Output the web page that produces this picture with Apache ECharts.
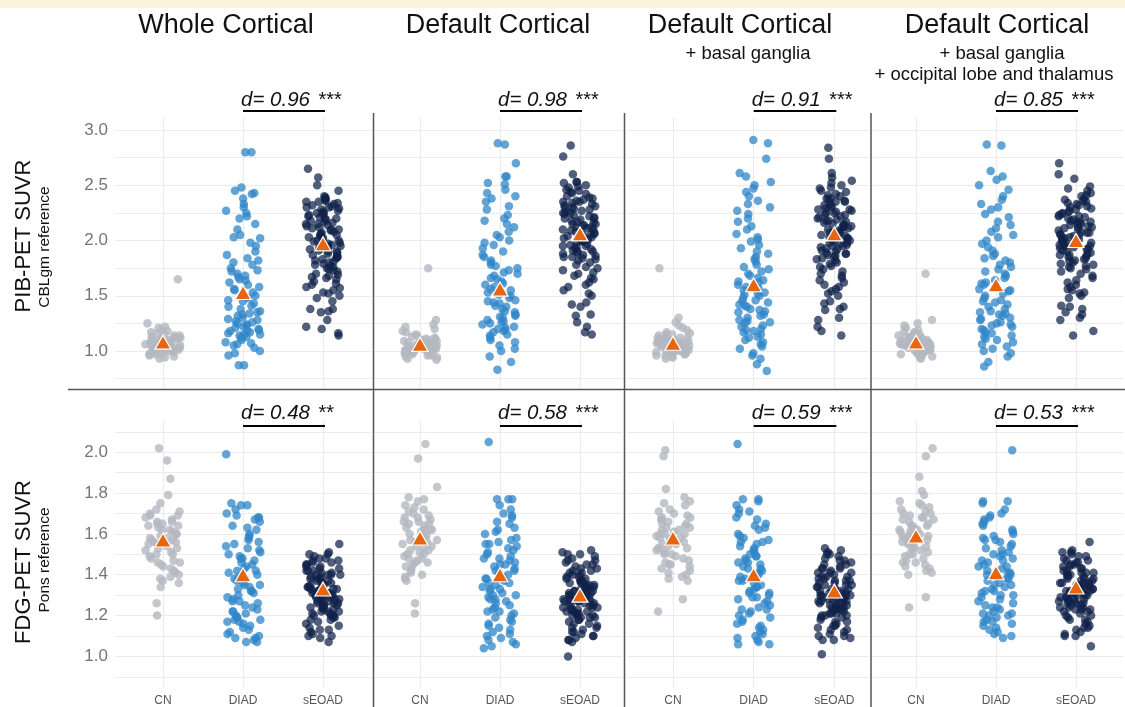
<!DOCTYPE html>
<html><head><meta charset="utf-8">
<script src="https://cdn.jsdelivr.net/npm/echarts@6/dist/echarts.min.js"></script>
<style>html,body{margin:0;padding:0;background:#fff}#c{width:1125px;height:707px}</style>
</head><body><div id="c"></div>
<script>
// ---------- labels ----------
const categories = ['CN', 'DIAD', 'sEOAD'];
const panelTitles = ['Whole Cortical', 'Default Cortical', 'Default Cortical', 'Default Cortical'];
const panelSubtitles = [[], [], ['+ basal ganglia'], ['+ basal ganglia', '+ occipital lobe and thalamus']];
const rowTitles = ['PIB-PET SUVR', 'FDG-PET SUVR'];
const rowSubtitles = ['CBLgm reference', 'Pons reference'];
const pibTickLabels = [1.0, 1.5, 2.0, 2.5, 3.0];
const pibGridValues = [0.75, 1.0, 1.25, 1.5, 1.75, 2.0, 2.25, 2.5, 2.75, 3.0];
const fdgTickLabels = [1.0, 1.2, 1.4, 1.6, 1.8, 2.0];
const fdgGridValues = [0.9, 1.0, 1.1, 1.2, 1.3, 1.4, 1.5, 1.6, 1.7, 1.8, 1.9, 2.0, 2.1];
const dPib = ['0.96', '0.98', '0.91', '0.85'];
const sigPib = ['***', '***', '***', '***'];
const dFdg = ['0.48', '0.58', '0.59', '0.53'];
const sigFdg = ['**', '***', '***', '***'];

// ---------- group means (triangles) ----------
const pibMeans = [[1.08, 1.53, 1.97], [1.06, 1.56, 2.06], [1.07, 1.60, 2.06], [1.08, 1.60, 2.00]];
const fdgMeans = [[1.57, 1.40, 1.33], [1.58, 1.40, 1.30], [1.58, 1.40, 1.32], [1.59, 1.41, 1.34]];

// ---------- PIB, Whole Cortical ----------
const pib1CN = [1.65,1.25,1.22,1.21,1.19,1.18,1.17,1.16,1.15,1.14,1.14,1.13,1.12,1.12,1.11,1.11,1.10,1.10,1.09,1.09,1.08,1.08,1.08,1.07,1.07,1.07,1.06,1.06,1.06,1.05,1.05,1.05,1.04,1.04,1.04,1.03,1.03,1.03,1.02,1.02,1.01,1.01,1.00,1.00,0.99,0.99,0.98,0.98,0.97,0.97,0.96,0.95,0.94,0.93,1.12,1.09,1.06,1.03,1.10,1.05];
const pib1DIAD = [2.80,2.80,2.48,2.45,2.43,2.42,2.38,2.33,2.30,2.27,2.25,2.22,2.20,2.15,2.10,2.05,2.03,2.02,1.98,1.95,1.90,1.87,1.84,1.82,1.80,1.78,1.75,1.73,1.72,1.70,1.68,1.67,1.65,1.64,1.62,1.60,1.58,1.56,1.55,1.53,1.50,1.48,1.46,1.45,1.43,1.41,1.40,1.38,1.36,1.35,1.33,1.32,1.30,1.29,1.28,1.27,1.25,1.24,1.23,1.22,1.21,1.20,1.19,1.18,1.17,1.16,1.15,1.15,1.14,1.13,1.12,1.10,1.08,1.07,1.06,1.05,1.03,1.00,0.98,0.96,0.87,0.87,1.34,1.26,1.18];
const pib1SEOAD = [2.65,2.57,2.50,2.45,2.40,2.39,2.38,2.37,2.36,2.35,2.34,2.33,2.32,2.31,2.30,2.29,2.28,2.27,2.26,2.25,2.24,2.23,2.22,2.21,2.20,2.19,2.18,2.17,2.16,2.15,2.14,2.13,2.12,2.11,2.10,2.09,2.08,2.07,2.06,2.05,2.04,2.03,2.02,2.01,2.00,1.99,1.98,1.97,1.96,1.95,1.94,1.93,1.92,1.91,1.90,1.89,1.88,1.87,1.86,1.85,1.84,1.83,1.82,1.81,1.80,1.79,1.78,1.77,1.76,1.75,1.74,1.73,1.72,1.70,1.69,1.68,1.67,1.66,1.65,1.63,1.61,1.60,1.58,1.57,1.55,1.53,1.52,1.50,1.48,1.45,1.38,1.38,1.36,1.35,1.28,1.22,1.20,1.16,1.14,2.35,2.25,2.15,2.05,1.95,1.85,2.20,2.10,2.00,1.90,2.30];

// ---------- PIB, Default Cortical ----------
const pib2CN = [1.75,1.28,1.24,1.22,1.20,1.18,1.17,1.15,1.14,1.13,1.12,1.11,1.10,1.10,1.09,1.09,1.08,1.08,1.07,1.07,1.06,1.06,1.06,1.05,1.05,1.05,1.04,1.04,1.04,1.03,1.03,1.03,1.02,1.02,1.02,1.01,1.01,1.01,1.00,1.00,1.00,0.99,0.99,0.98,0.98,0.97,0.97,0.96,0.96,0.95,0.94,0.93,0.92,1.08,1.05,1.03,1.11,1.02,0.99,1.06];
const pib2DIAD = [2.88,2.87,2.70,2.58,2.58,2.52,2.51,2.46,2.43,2.40,2.38,2.35,2.31,2.28,2.23,2.20,2.18,2.15,2.12,2.08,2.05,2.03,2.00,1.98,1.96,1.93,1.90,1.87,1.85,1.82,1.80,1.78,1.77,1.75,1.73,1.71,1.70,1.68,1.66,1.65,1.63,1.61,1.60,1.58,1.56,1.55,1.53,1.51,1.50,1.48,1.46,1.45,1.43,1.41,1.40,1.38,1.36,1.35,1.33,1.31,1.30,1.28,1.27,1.25,1.24,1.22,1.21,1.20,1.18,1.17,1.15,1.14,1.12,1.10,1.08,1.05,1.02,1.00,0.95,0.90,0.83,1.32,1.26,1.19,1.44];
const pib2SEOAD = [2.86,2.76,2.60,2.53,2.53,2.52,2.50,2.49,2.48,2.46,2.45,2.44,2.43,2.42,2.40,2.39,2.38,2.37,2.36,2.35,2.34,2.33,2.32,2.31,2.30,2.29,2.28,2.27,2.26,2.25,2.24,2.23,2.22,2.21,2.20,2.19,2.18,2.17,2.16,2.15,2.14,2.13,2.12,2.11,2.10,2.09,2.08,2.07,2.06,2.05,2.04,2.03,2.02,2.01,2.00,1.99,1.98,1.97,1.96,1.95,1.94,1.93,1.92,1.91,1.90,1.89,1.88,1.87,1.86,1.85,1.84,1.83,1.82,1.80,1.78,1.76,1.75,1.73,1.71,1.70,1.68,1.66,1.65,1.62,1.60,1.58,1.55,1.52,1.50,1.44,1.42,1.40,1.33,1.32,1.26,1.22,1.17,1.15,2.30,2.20,2.10,2.00,1.90,2.25,2.15,2.05,1.95,1.85,2.35,2.12];

// ---------- PIB, Default Cortical + basal ganglia ----------
const pib3CN = [1.75,1.30,1.26,1.23,1.21,1.19,1.17,1.16,1.15,1.14,1.13,1.12,1.12,1.11,1.10,1.10,1.09,1.09,1.08,1.08,1.07,1.07,1.07,1.06,1.06,1.06,1.05,1.05,1.05,1.04,1.04,1.04,1.03,1.03,1.03,1.02,1.02,1.01,1.01,1.00,1.00,0.99,0.99,0.98,0.98,0.97,0.97,0.96,0.96,0.95,0.94,0.93,1.10,1.08,1.05,1.12,1.03,1.00,1.07,1.15];
const pib3DIAD = [2.91,2.88,2.74,2.61,2.58,2.53,2.50,2.47,2.44,2.40,2.36,2.33,2.30,2.27,2.24,2.20,2.17,2.13,2.10,2.06,2.03,2.01,1.99,1.96,1.93,1.90,1.88,1.85,1.83,1.81,1.78,1.76,1.74,1.72,1.70,1.68,1.66,1.64,1.62,1.60,1.58,1.57,1.55,1.53,1.51,1.50,1.48,1.46,1.44,1.42,1.40,1.38,1.37,1.35,1.33,1.32,1.30,1.28,1.26,1.25,1.23,1.22,1.20,1.18,1.17,1.15,1.13,1.12,1.10,1.08,1.06,1.04,1.02,0.98,0.96,0.93,0.88,0.82,1.45,1.36,1.27,1.52,1.19,1.63,1.41];
const pib3SEOAD = [2.84,2.74,2.61,2.57,2.54,2.52,2.50,2.48,2.47,2.45,2.44,2.42,2.41,2.40,2.38,2.37,2.36,2.35,2.33,2.32,2.31,2.30,2.29,2.28,2.27,2.26,2.25,2.24,2.23,2.22,2.21,2.20,2.19,2.18,2.17,2.16,2.15,2.14,2.13,2.12,2.11,2.10,2.09,2.08,2.07,2.06,2.05,2.04,2.03,2.02,2.01,2.00,1.99,1.98,1.97,1.96,1.95,1.94,1.93,1.92,1.91,1.90,1.89,1.88,1.87,1.86,1.85,1.84,1.83,1.82,1.80,1.79,1.77,1.76,1.74,1.72,1.70,1.68,1.66,1.64,1.62,1.60,1.58,1.56,1.54,1.52,1.50,1.45,1.43,1.40,1.38,1.37,1.30,1.28,1.22,1.18,1.14,2.35,2.25,2.15,2.05,1.95,2.28,2.18,2.08,1.98,1.88,2.38,2.12,2.02];

// ---------- PIB, + occipital lobe and thalamus ----------
const pib4CN = [1.70,1.28,1.25,1.23,1.21,1.19,1.18,1.17,1.16,1.15,1.14,1.13,1.13,1.12,1.11,1.11,1.10,1.10,1.09,1.09,1.08,1.08,1.08,1.07,1.07,1.07,1.06,1.06,1.06,1.05,1.05,1.05,1.04,1.04,1.04,1.03,1.03,1.02,1.02,1.01,1.01,1.00,1.00,0.99,0.99,0.98,0.98,0.97,0.97,0.96,0.95,0.94,0.93,1.12,1.09,1.06,1.14,1.04,1.01,1.10];
const pib4DIAD = [2.87,2.86,2.63,2.58,2.55,2.50,2.46,2.40,2.37,2.33,2.30,2.28,2.24,2.21,2.17,2.14,2.11,2.08,2.05,2.03,2.00,1.97,1.94,1.91,1.88,1.86,1.84,1.82,1.80,1.78,1.76,1.74,1.72,1.70,1.68,1.66,1.64,1.62,1.60,1.58,1.56,1.54,1.52,1.50,1.48,1.46,1.44,1.42,1.40,1.38,1.36,1.34,1.32,1.30,1.28,1.26,1.25,1.23,1.22,1.20,1.19,1.17,1.16,1.14,1.13,1.11,1.10,1.08,1.06,1.04,1.02,1.00,0.98,0.95,0.90,0.86,1.35,1.29,1.45,1.55,1.24,1.61,1.33];
const pib4SEOAD = [2.70,2.60,2.56,2.49,2.47,2.45,2.43,2.41,2.40,2.38,2.37,2.35,2.34,2.33,2.31,2.30,2.29,2.28,2.26,2.25,2.24,2.23,2.22,2.21,2.20,2.19,2.18,2.17,2.16,2.15,2.14,2.13,2.12,2.11,2.10,2.09,2.08,2.07,2.06,2.05,2.04,2.03,2.02,2.01,2.00,1.99,1.98,1.97,1.96,1.95,1.94,1.93,1.92,1.91,1.90,1.89,1.88,1.87,1.86,1.85,1.84,1.83,1.82,1.81,1.80,1.79,1.78,1.77,1.76,1.75,1.74,1.72,1.70,1.68,1.66,1.64,1.62,1.60,1.58,1.56,1.55,1.53,1.52,1.50,1.48,1.41,1.40,1.38,1.35,1.33,1.30,1.28,1.18,1.14,2.32,2.22,2.12,2.02,1.92,2.27,2.17,2.07,1.97,1.87,2.36,2.05,1.95,2.15];

// ---------- FDG, Whole Cortical ----------
const fdg1CN = [2.02,1.96,1.87,1.79,1.75,1.72,1.71,1.70,1.69,1.69,1.68,1.67,1.66,1.66,1.65,1.64,1.64,1.63,1.62,1.62,1.61,1.60,1.60,1.59,1.58,1.58,1.57,1.57,1.56,1.56,1.55,1.55,1.54,1.53,1.53,1.52,1.51,1.50,1.50,1.49,1.48,1.47,1.46,1.46,1.45,1.44,1.43,1.42,1.41,1.40,1.39,1.38,1.37,1.36,1.34,1.26,1.20,1.60,1.55,1.65];
const fdg1DIAD = [1.99,1.75,1.74,1.74,1.72,1.70,1.69,1.68,1.68,1.67,1.66,1.64,1.63,1.62,1.60,1.59,1.58,1.57,1.56,1.55,1.54,1.53,1.52,1.51,1.50,1.49,1.48,1.47,1.46,1.45,1.44,1.43,1.42,1.41,1.40,1.39,1.38,1.37,1.36,1.35,1.34,1.33,1.32,1.31,1.30,1.29,1.28,1.27,1.26,1.25,1.24,1.23,1.22,1.21,1.20,1.19,1.19,1.18,1.18,1.17,1.17,1.16,1.15,1.14,1.13,1.12,1.11,1.10,1.09,1.09,1.08,1.07,1.07,1.38,1.32,1.27,1.48,1.22,1.35,1.42];
const fdg1SEOAD = [1.55,1.51,1.50,1.50,1.49,1.48,1.48,1.47,1.47,1.46,1.46,1.45,1.45,1.44,1.44,1.43,1.43,1.42,1.42,1.41,1.41,1.40,1.40,1.40,1.39,1.39,1.38,1.38,1.37,1.37,1.36,1.36,1.35,1.35,1.34,1.34,1.33,1.33,1.33,1.32,1.32,1.31,1.31,1.30,1.30,1.30,1.29,1.29,1.28,1.28,1.27,1.27,1.26,1.26,1.25,1.25,1.24,1.24,1.23,1.23,1.22,1.22,1.21,1.21,1.20,1.20,1.19,1.19,1.18,1.18,1.17,1.16,1.15,1.14,1.13,1.13,1.12,1.11,1.10,1.10,1.09,1.07,1.35,1.32,1.28,1.25,1.38,1.22,1.30,1.42,1.33,1.27,1.36,1.24,1.31,1.40,1.20,1.29,1.34,1.26];

// ---------- FDG, Default Cortical ----------
const fdg2CN = [2.04,1.97,1.83,1.78,1.77,1.76,1.74,1.73,1.72,1.71,1.70,1.69,1.68,1.68,1.67,1.66,1.65,1.65,1.64,1.63,1.62,1.62,1.61,1.60,1.60,1.59,1.58,1.58,1.57,1.56,1.56,1.55,1.54,1.54,1.53,1.52,1.51,1.50,1.50,1.49,1.48,1.47,1.46,1.46,1.45,1.44,1.43,1.42,1.41,1.40,1.39,1.38,1.37,1.26,1.21,1.62,1.57,1.66,1.52,1.48];
const fdg2DIAD = [2.05,1.77,1.77,1.77,1.74,1.72,1.70,1.69,1.68,1.66,1.65,1.63,1.62,1.61,1.60,1.58,1.57,1.56,1.55,1.54,1.53,1.52,1.51,1.50,1.49,1.48,1.47,1.46,1.45,1.44,1.43,1.42,1.41,1.40,1.39,1.38,1.37,1.36,1.35,1.34,1.33,1.32,1.31,1.30,1.29,1.28,1.27,1.26,1.25,1.24,1.23,1.22,1.21,1.20,1.19,1.18,1.17,1.16,1.15,1.14,1.13,1.12,1.11,1.10,1.09,1.08,1.07,1.06,1.05,1.04,1.42,1.36,1.30,1.48,1.22,1.55,1.38,1.28,1.45,1.33];
const fdg2SEOAD = [1.52,1.51,1.50,1.50,1.49,1.48,1.47,1.47,1.46,1.45,1.45,1.44,1.43,1.43,1.42,1.41,1.41,1.40,1.39,1.39,1.38,1.37,1.37,1.36,1.35,1.35,1.34,1.33,1.33,1.32,1.31,1.31,1.30,1.30,1.29,1.29,1.28,1.28,1.27,1.27,1.26,1.26,1.25,1.25,1.24,1.24,1.23,1.23,1.22,1.22,1.21,1.21,1.20,1.20,1.19,1.19,1.18,1.18,1.17,1.16,1.16,1.15,1.14,1.14,1.13,1.12,1.12,1.11,1.10,1.10,1.09,1.08,1.08,1.07,1.00,1.32,1.28,1.35,1.25,1.30,1.38,1.22,1.33,1.27,1.40,1.29,1.24,1.36,1.31,1.26,1.34,1.20,1.30,1.23,1.28,1.37,1.32,1.19,1.42,1.27];

// ---------- FDG, Default Cortical + basal ganglia ----------
const fdg3CN = [2.01,1.98,1.82,1.78,1.76,1.75,1.74,1.72,1.71,1.70,1.69,1.68,1.68,1.67,1.66,1.65,1.65,1.64,1.63,1.62,1.62,1.61,1.60,1.60,1.59,1.58,1.58,1.57,1.56,1.56,1.55,1.54,1.53,1.53,1.52,1.51,1.50,1.50,1.49,1.48,1.47,1.46,1.45,1.45,1.44,1.43,1.42,1.41,1.40,1.39,1.38,1.37,1.28,1.22,1.63,1.58,1.67,1.53,1.60,1.55];
const fdg3DIAD = [2.04,1.77,1.77,1.76,1.74,1.72,1.71,1.70,1.68,1.67,1.65,1.64,1.63,1.62,1.60,1.59,1.58,1.57,1.56,1.55,1.54,1.53,1.52,1.51,1.50,1.49,1.48,1.47,1.46,1.45,1.44,1.43,1.42,1.41,1.40,1.39,1.38,1.37,1.36,1.35,1.34,1.33,1.32,1.31,1.30,1.29,1.28,1.27,1.26,1.25,1.24,1.23,1.22,1.21,1.20,1.19,1.18,1.17,1.16,1.15,1.14,1.13,1.12,1.11,1.10,1.09,1.08,1.07,1.06,1.06,1.43,1.37,1.31,1.49,1.23,1.56,1.39,1.29,1.46,1.34];
const fdg3SEOAD = [1.53,1.52,1.51,1.50,1.50,1.49,1.48,1.47,1.47,1.46,1.45,1.45,1.44,1.43,1.43,1.42,1.41,1.41,1.40,1.39,1.39,1.38,1.37,1.37,1.36,1.35,1.35,1.34,1.33,1.33,1.32,1.31,1.31,1.30,1.30,1.29,1.29,1.28,1.28,1.27,1.27,1.26,1.26,1.25,1.25,1.24,1.24,1.23,1.23,1.22,1.22,1.21,1.21,1.20,1.20,1.19,1.19,1.18,1.17,1.17,1.16,1.15,1.15,1.14,1.13,1.13,1.12,1.11,1.10,1.10,1.09,1.08,1.08,1.01,1.33,1.29,1.36,1.26,1.31,1.39,1.23,1.34,1.28,1.41,1.30,1.25,1.37,1.32,1.27,1.35,1.21,1.31,1.24,1.29,1.38,1.33,1.20,1.43,1.28,1.30];

// ---------- FDG, + occipital lobe and thalamus ----------
const fdg4CN = [2.02,1.98,1.88,1.81,1.79,1.76,1.75,1.74,1.73,1.72,1.71,1.70,1.70,1.69,1.68,1.67,1.67,1.66,1.65,1.64,1.64,1.63,1.62,1.62,1.61,1.60,1.60,1.59,1.58,1.58,1.57,1.56,1.56,1.55,1.54,1.53,1.53,1.52,1.51,1.50,1.50,1.49,1.48,1.47,1.46,1.46,1.45,1.44,1.43,1.42,1.41,1.40,1.29,1.24,1.64,1.59,1.68,1.54,1.61,1.56];
const fdg4DIAD = [2.01,1.76,1.76,1.75,1.72,1.70,1.69,1.68,1.67,1.66,1.65,1.64,1.62,1.61,1.60,1.59,1.58,1.57,1.56,1.55,1.54,1.53,1.52,1.51,1.50,1.49,1.48,1.47,1.46,1.45,1.44,1.43,1.42,1.41,1.40,1.39,1.38,1.37,1.36,1.35,1.34,1.33,1.32,1.31,1.30,1.29,1.28,1.27,1.26,1.25,1.24,1.23,1.22,1.21,1.20,1.20,1.19,1.18,1.17,1.17,1.16,1.15,1.14,1.13,1.12,1.11,1.10,1.09,1.44,1.38,1.32,1.50,1.24,1.57,1.40,1.30,1.47,1.35,1.21,1.41];
const fdg4SEOAD = [1.56,1.52,1.51,1.51,1.50,1.49,1.49,1.48,1.47,1.47,1.46,1.45,1.45,1.44,1.43,1.43,1.42,1.41,1.41,1.40,1.40,1.39,1.38,1.38,1.37,1.36,1.36,1.35,1.35,1.34,1.34,1.33,1.33,1.32,1.32,1.31,1.31,1.30,1.30,1.29,1.29,1.28,1.28,1.27,1.27,1.26,1.26,1.25,1.25,1.24,1.24,1.23,1.23,1.22,1.22,1.21,1.20,1.20,1.19,1.18,1.18,1.17,1.16,1.15,1.14,1.14,1.13,1.12,1.11,1.10,1.10,1.05,1.36,1.32,1.39,1.29,1.34,1.42,1.26,1.37,1.31,1.44,1.33,1.28,1.40,1.35,1.30,1.38,1.24,1.34,1.27,1.32,1.41,1.36,1.23,1.46,1.31,1.33];

// ---------- assemble ----------
const pibData = [[pib1CN, pib1DIAD, pib1SEOAD], [pib2CN, pib2DIAD, pib2SEOAD], [pib3CN, pib3DIAD, pib3SEOAD], [pib4CN, pib4DIAD, pib4SEOAD]];
const fdgData = [[fdg1CN, fdg1DIAD, fdg1SEOAD], [fdg2CN, fdg2DIAD, fdg2SEOAD], [fdg3CN, fdg3DIAD, fdg3SEOAD], [fdg4CN, fdg4DIAD, fdg4SEOAD]];

const FONT = '"Liberation Sans", Arial, Helvetica, sans-serif';
const groupColors = ['#b4b8c0', '#2f86c8', '#0f2149'];
const groupOpacity = [0.8, 0.75, 0.72];

// panel geometry (pixels) and visible x ranges
const colLayout = [
  { left: 115, width: 256, xmin: 0.4, xmax: 3.6 },
  { left: 375, width: 247, xmin: 0.4375, xmax: 3.525 },
  { left: 627, width: 242, xmin: 0.43, xmax: 3.43 },
  { left: 873, width: 250, xmin: 0.4625, xmax: 3.5875 }
];
const rowLayout = [
  { top: 117, height: 271, ymin: 0.665, ymax: 3.118 },
  { top: 420, height: 270, ymin: 0.85, ymax: 2.158 }
];

// deterministic horizontal jitter (hash of point index; spreads points sideways only)
const jitter = (i, g, p) => {
  const h = Math.sin((i + 1) * 12.9898 + g * 78.233 + p * 37.719) * 43758.5453;
  return ((h - Math.floor(h)) - 0.5) * 0.44;
};

const grids = [], xAxes = [], yAxes = [], series = [];
for (let r = 0; r < 2; r++) {
  for (let c = 0; c < 4; c++) {
    const p = r * 4 + c;
    const cl = colLayout[c], rl = rowLayout[r];
    grids.push({ left: cl.left, width: cl.width, top: rl.top, height: rl.height, containLabel: false });
    xAxes.push({
      gridIndex: p, type: 'value', min: cl.xmin, max: cl.xmax,
      axisLine: { show: false },
      axisTick: { show: false, customValues: [1, 2, 3] },
      splitLine: { show: true, lineStyle: { color: '#ebebeb', width: 1.2 } },
      axisLabel: {
        show: r === 1, customValues: [1, 2, 3],
        formatter: v => categories[Math.round(v) - 1],
        color: '#555', fontSize: 12, margin: 8, fontFamily: FONT
      }
    });
    yAxes.push({
      gridIndex: p, type: 'value', min: rl.ymin, max: rl.ymax,
      axisLine: { show: false },
      axisTick: { show: false, customValues: r === 0 ? pibGridValues : fdgGridValues },
      splitLine: { show: true, lineStyle: { color: '#ebebeb', width: 1.2 } },
      axisLabel: {
        show: c === 0, customValues: r === 0 ? pibTickLabels : fdgTickLabels,
        formatter: v => v.toFixed(1),
        color: '#757575', fontSize: 17, margin: 7, fontFamily: FONT
      }
    });
    const groups = r === 0 ? pibData[c] : fdgData[c];
    groups.forEach((vals, g) => {
      series.push({
        type: 'scatter', xAxisIndex: p, yAxisIndex: p, symbol: 'circle', symbolSize: 8.5,
        itemStyle: { color: groupColors[g], opacity: groupOpacity[g] },
        emphasis: { disabled: true }, silent: true, z: 2,
        data: vals.map((v, i) => [g + 1 + jitter(i, g, p), v])
      });
    });
    const means = r === 0 ? pibMeans[c] : fdgMeans[c];
    series.push({
      type: 'scatter', xAxisIndex: p, yAxisIndex: p, symbol: 'triangle', symbolSize: [16, 14],
      itemStyle: { color: '#e8650f', borderColor: '#ffffff', borderWidth: 1.2, opacity: 1 },
      emphasis: { disabled: true }, silent: true, z: 5,
      data: means.map((m, g) => [g + 1, m])
    });
  }
}

const chart = echarts.init(document.getElementById('c'), null, { renderer: 'canvas' });
chart.setOption({
  animation: false, backgroundColor: '#ffffff',
  grid: grids, xAxis: xAxes, yAxis: yAxes, series: series
});

// ---------- annotations ----------
const graphics = [];
graphics.push({ type: 'rect', shape: { x: 0, y: 0, width: 1125, height: 8 }, style: { fill: '#fcf5dc' }, z: 0 });
const titleCenters = [226, 498, 740, 997];
const subCenters = [[], [], [748], [1002, 994]];
panelTitles.forEach((t, c) => {
  graphics.push({ type: 'text', x: titleCenters[c], y: 26, style: { text: t, font: '27px ' + FONT, fill: '#111', align: 'center', verticalAlign: 'middle' }, z: 10 });
  panelSubtitles[c].forEach((s, k) => {
    graphics.push({ type: 'text', x: subCenters[c][k], y: 54 + 21 * k, style: { text: s, font: '18.5px ' + FONT, fill: '#111', align: 'center', verticalAlign: 'middle' }, z: 10 });
  });
});
const rowCenters = [236, 562];
const rowSubCenters = [247, 560];
rowTitles.forEach((t, r) => {
  graphics.push({ type: 'text', x: 24, y: rowCenters[r], rotation: Math.PI / 2, style: { text: t, font: '22px ' + FONT, fill: '#111', align: 'center', verticalAlign: 'middle' }, z: 10 });
  graphics.push({ type: 'text', x: 45, y: rowSubCenters[r], rotation: Math.PI / 2, style: { text: rowSubtitles[r], font: '15.5px ' + FONT, fill: '#111', align: 'center', verticalAlign: 'middle' }, z: 10 });
});
// effect size labels and brackets
const bracketY = [111, 426];
const labelY = [100, 413];
for (let r = 0; r < 2; r++) {
  for (let c = 0; c < 4; c++) {
    const p = r * 4 + c;
    const x2 = chart.convertToPixel({ gridIndex: p }, [2, 1])[0];
    const x3 = chart.convertToPixel({ gridIndex: p }, [3, 1])[0];
    const d = r === 0 ? dPib[c] : dFdg[c];
    const s = r === 0 ? sigPib[c] : sigFdg[c];
    graphics.push({ type: 'line', shape: { x1: x2, y1: bracketY[r], x2: x3 + 2, y2: bracketY[r] }, style: { stroke: '#000', lineWidth: 2 }, z: 10 });
    graphics.push({
      type: 'text', x: x2 - 2, y: labelY[r],
      style: {
        text: '{a|d= ' + d + '}{b| ' + s + '}',
        rich: {
          a: { font: 'italic 20.5px ' + FONT, fill: '#111' },
          b: { font: '20px ' + FONT, fill: '#111', padding: [0, 0, 0, 3] }
        },
        align: 'left', verticalAlign: 'middle'
      }, z: 10
    });
  }
}
// panel separators
graphics.push({ type: 'line', shape: { x1: 68, y1: 389.5, x2: 1125, y2: 389.5 }, style: { stroke: '#555', lineWidth: 1.5 }, z: 11 });
[373.5, 624.5, 871].forEach(x => {
  graphics.push({ type: 'line', shape: { x1: x, y1: 113, x2: x, y2: 707 }, style: { stroke: '#555', lineWidth: 1.5 }, z: 11 });
});
chart.setOption({ graphic: graphics });
</script>
</body></html>
